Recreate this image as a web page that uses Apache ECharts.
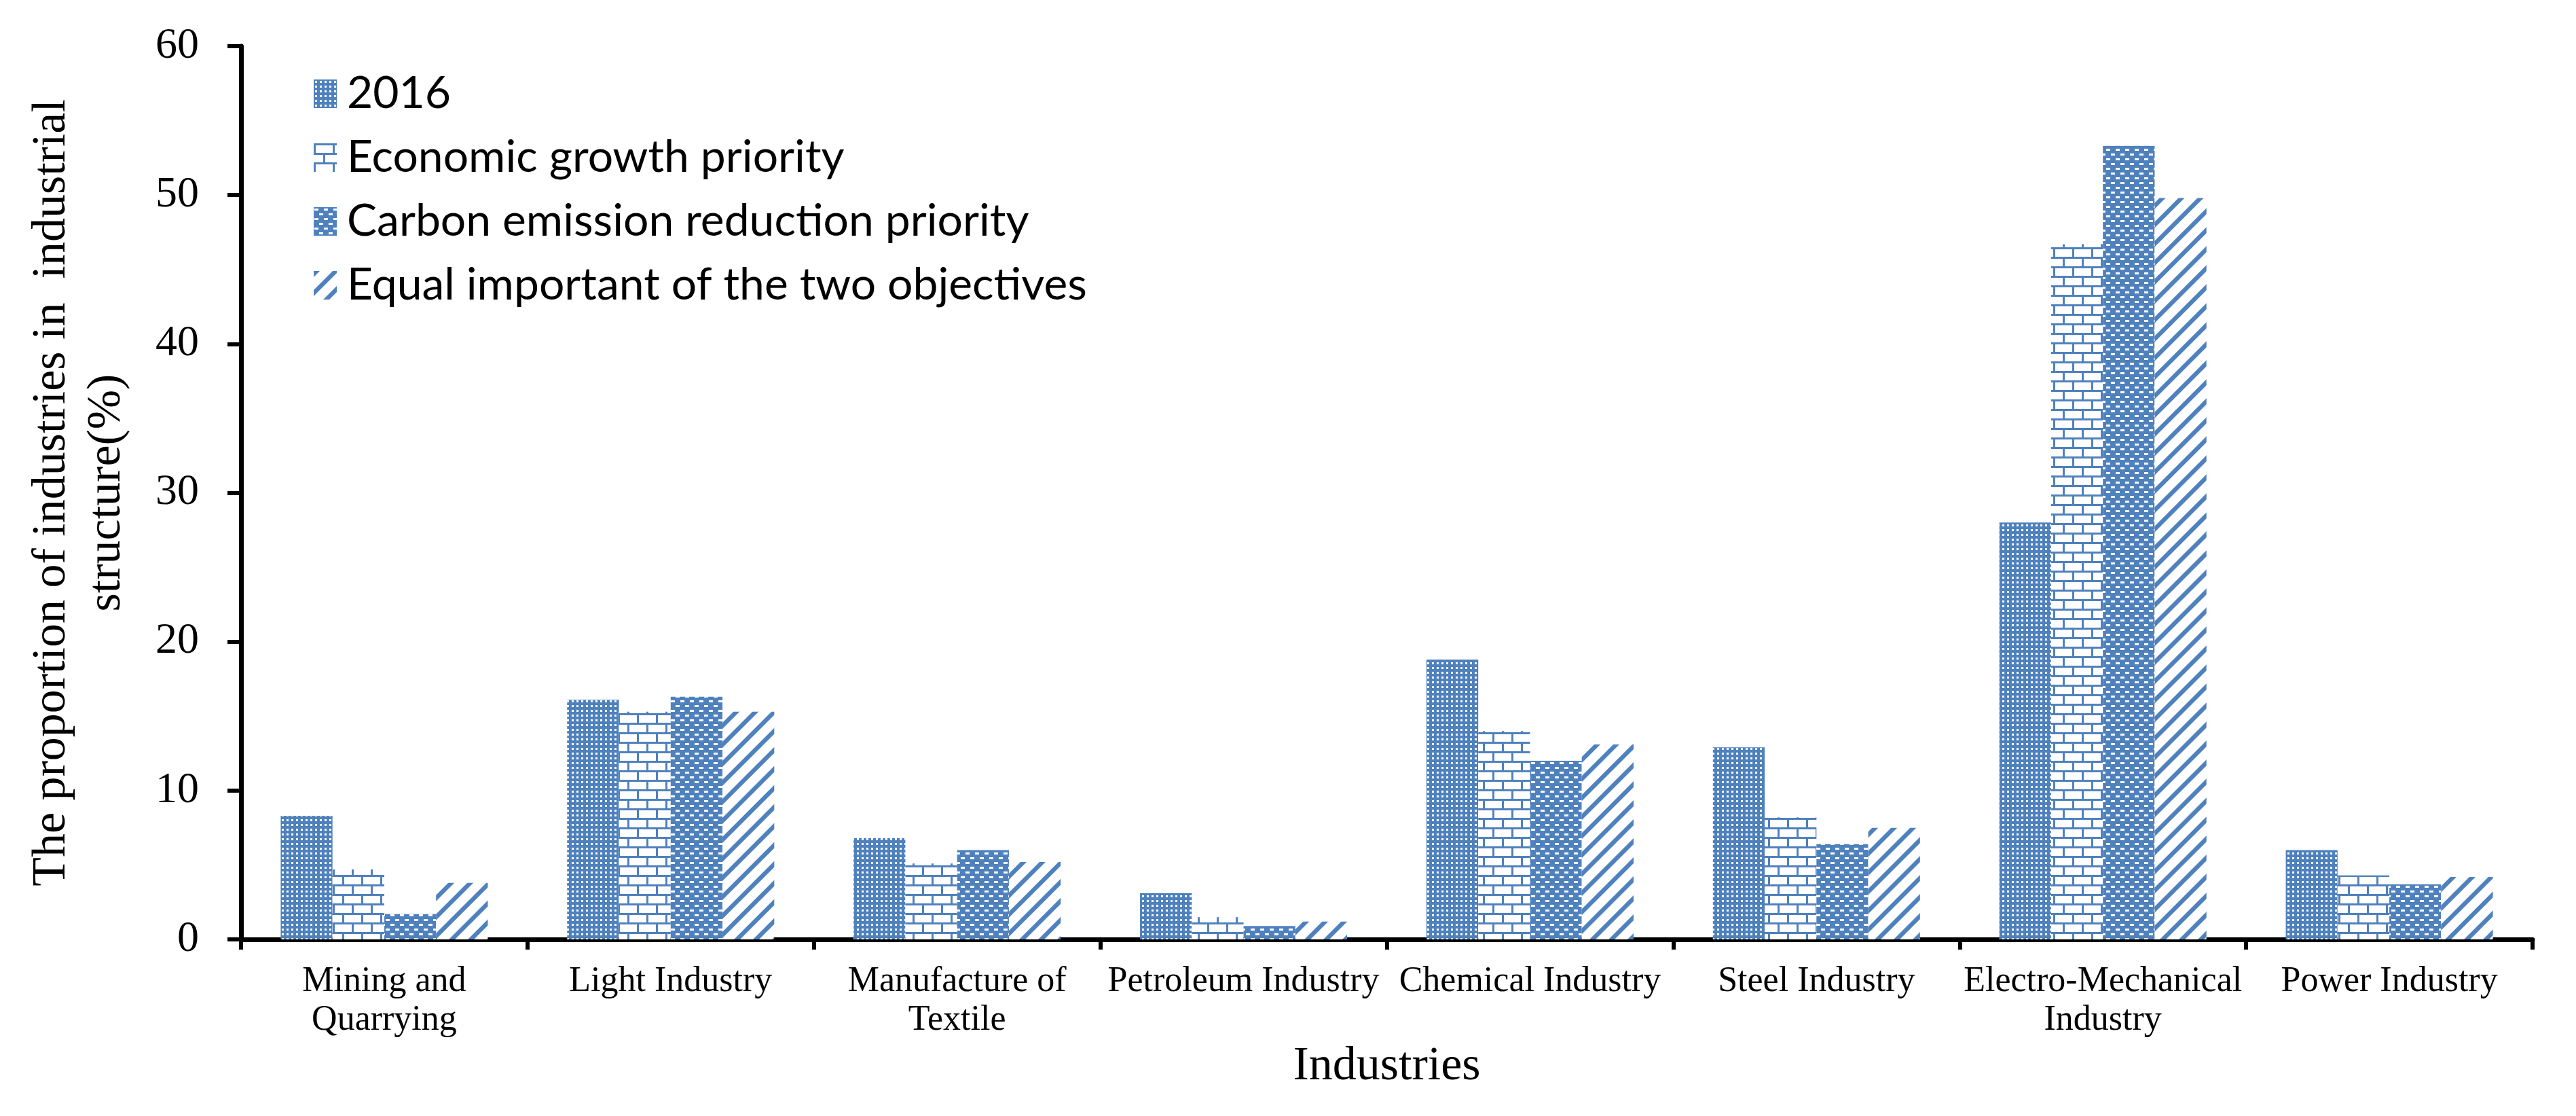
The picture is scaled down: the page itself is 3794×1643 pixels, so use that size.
<!DOCTYPE html>
<html>
<head>
<meta charset="utf-8">
<script src="https://cdn.jsdelivr.net/npm/echarts@6/dist/echarts.min.js"></script>
<style>
html,body{margin:0;padding:0;background:#fff;}
#chart{width:3794px;height:1643px;}
</style>
</head>
<body>
<div id="chart"></div>
<script>
const categories = ["Mining and\nQuarrying", "Light Industry", "Manufacture of\nTextile", "Petroleum Industry", "Chemical Industry", "Steel Industry", "Electro-Mechanical\nIndustry", "Power Industry"];
const seriesNames = ["2016", "Economic growth priority", "Carbon emission reduction priority", "Equal important of the two objectives"];
const values2016 = [8.3, 16.1, 6.8, 3.1, 18.8, 12.9, 28.0, 6.0];
const valuesEconomic = [4.7, 15.3, 5.1, 1.5, 14.0, 8.2, 46.7, 4.3];
const valuesCarbon = [1.7, 16.3, 6.0, 0.9, 12.0, 6.4, 53.3, 3.7];
const valuesEqual = [3.8, 15.3, 5.2, 1.2, 13.1, 7.5, 49.8, 4.2];
const yTicks = { min: 0, max: 60, interval: 10 };

const BLUE = '#4F81BD';

function tile(w, h, draw) {
  const c = document.createElement('canvas');
  c.width = w; c.height = h;
  const g = c.getContext('2d');
  draw(g);
  return { image: c, repeat: 'repeat' };
}
const pat2016 = tile(7, 7, g => {
  g.fillStyle = BLUE; g.fillRect(0, 0, 7, 7);
  g.fillStyle = '#fff'; g.fillRect(2, 2, 3, 3);
});
const patBrick = tile(28, 28, g => {
  g.fillStyle = '#fff'; g.fillRect(0, 0, 28, 28);
  g.fillStyle = BLUE;
  g.fillRect(0, 0, 28, 3); g.fillRect(0, 3, 3, 11);
  g.fillRect(0, 14, 28, 3); g.fillRect(14, 17, 3, 11);
});
const patCarbon = tile(14, 14, g => {
  g.fillStyle = BLUE; g.fillRect(0, 0, 14, 14);
  g.fillStyle = '#fff';
  g.fillRect(1, 2, 6, 3); g.fillRect(8, 9, 6, 3);
});
const patStripe = tile(28, 28, g => {
  g.fillStyle = '#fff'; g.fillRect(0, 0, 28, 28);
  g.fillStyle = BLUE;
  [-28, 0, 28].forEach(k => {
    g.beginPath();
    g.moveTo(k, 28); g.lineTo(k + 9, 28); g.lineTo(k + 37, 0); g.lineTo(k + 28, 0);
    g.closePath(); g.fill();
  });
});

const patterns = [pat2016, patBrick, patCarbon, patStripe];
const dataSets = [values2016, valuesEconomic, valuesCarbon, valuesEqual];
const serif = 'Liberation Serif';

const chart = echarts.init(document.getElementById('chart'), null, { renderer: 'canvas' });
chart.setOption({
  animation: false,
  backgroundColor: '#fff',
  grid: { left: 355, right: 64, top: 68, bottom: 260, containLabel: false },
  legend: {
    orient: 'vertical', left: 462, top: 104, padding: 0,
    itemWidth: 34, itemHeight: 42, itemGap: 26,
    icon: 'rect',
    textStyle: { fontFamily: 'Lato', fontSize: 66, color: '#000', lineHeight: 68, padding: [0, 0, 0, 10] },
    data: seriesNames
  },
  xAxis: {
    type: 'category', data: categories,
    name: 'Industries', nameLocation: 'middle', nameGap: 148,
    nameTextStyle: { fontFamily: serif, fontSize: 70, color: '#000' },
    axisLine: { lineStyle: { color: '#000', width: 7 } },
    axisTick: { show: true, length: 15, lineStyle: { color: '#000', width: 6 }, interval: 0 },
    axisLabel: { interval: 0, fontFamily: serif, fontSize: 52, lineHeight: 57, color: '#000', margin: 34 }
  },
  yAxis: {
    type: 'value', min: yTicks.min, max: yTicks.max, interval: yTicks.interval,
    name: 'The proportion of industries in  industrial\nstructure(%)',
    nameLocation: 'middle', nameGap: 157,
    nameTextStyle: { fontFamily: serif, fontSize: 70, color: '#000', lineHeight: 81, align: 'center' },
    axisLine: { show: true, lineStyle: { color: '#000', width: 7 } },
    axisTick: { show: true, length: 20, lineStyle: { color: '#000', width: 6 } },
    splitLine: { show: false },
    axisLabel: { fontFamily: serif, fontSize: 64, color: '#000', margin: 62 }
  },
  series: seriesNames.map((n, i) => ({
    name: n, type: 'bar', data: dataSets[i],
    barGap: '0%', barCategoryGap: '27.7%',
    itemStyle: { color: patterns[i] }
  }))
});
</script>
</body>
</html>
